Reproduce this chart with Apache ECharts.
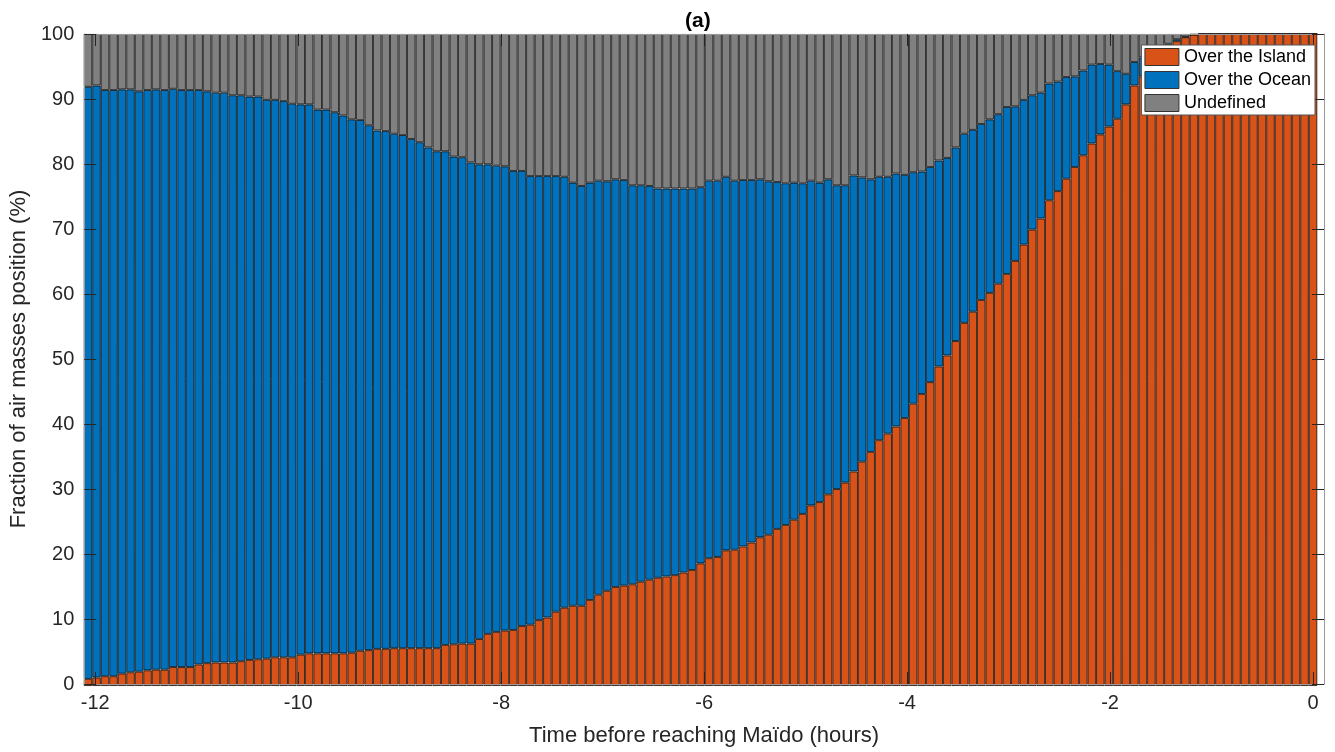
<!DOCTYPE html>
<html>
<head>
<meta charset="utf-8">
<script src="https://cdn.jsdelivr.net/npm/echarts@6/dist/echarts.min.js"></script>
<style>
html,body{margin:0;padding:0;background:#fff;}
#chart{width:1335px;height:752px;}
</style>
</head>
<body>
<div id="chart"></div>
<script>
// ---- data (5-minute steps from -12 h to 0 h, 145 bars) ----
const START_HOUR = -12;
const STEP_MINUTES = 5;
const seriesNames = ['Over the Island', 'Over the Ocean', 'Undefined'];
const xTickValues = [-12, -10, -8, -6, -4, -2, 0];

const island = [
  1.1,1.3,1.5,1.5,1.9,2.1,2.2,2.4,2.5,2.5,
  2.9,2.9,2.9,3.3,3.5,3.6,3.6,3.6,3.8,4.0,
  4.1,4.2,4.4,4.4,4.4,4.8,5.0,5.0,5.0,5.0,
  5.0,5.1,5.4,5.5,5.7,5.7,5.8,5.8,5.8,5.8,
  5.8,5.8,6.3,6.4,6.5,6.5,7.2,8.0,8.3,8.5,
  8.6,9.2,9.4,10.1,10.5,11.4,12.0,12.3,12.3,13.2,
  14.0,14.6,15.2,15.4,15.6,16.0,16.3,16.6,16.8,17.0,
  17.4,17.8,18.8,19.6,19.8,20.8,20.9,21.4,22.0,22.8,
  23.2,24.1,24.7,25.5,26.4,27.7,28.2,29.4,30.2,31.2,
  32.9,34.4,35.9,37.7,38.7,39.8,41.1,43.3,44.8,46.6,
  49.0,50.7,52.9,55.7,57.4,59.2,60.3,61.7,63.2,65.2,
  67.7,70.0,71.7,74.5,75.9,77.8,79.6,81.4,83.2,84.6,
  85.8,87.0,89.2,92.1,93.5,95.0,96.5,97.8,98.9,99.5,
  99.9,100,100,100,100,100,100,100,100,100,
  100,100,100,100,100
];

const ocean = [
  90.8,90.8,89.9,89.9,89.6,89.4,89.0,89.0,89.0,88.9,
  88.7,88.5,88.5,88.1,87.7,87.4,87.4,87.0,86.8,86.4,
  86.3,85.7,85.5,85.3,84.9,84.4,84.2,83.4,83.4,83.0,
  82.5,81.8,81.4,80.5,79.5,79.4,78.9,78.7,78.1,77.6,
  76.8,76.2,75.7,74.8,74.6,73.8,72.8,72.0,71.5,71.2,
  70.4,69.8,68.8,68.1,67.7,66.8,66.1,64.9,64.4,64.0,
  63.5,62.8,62.5,62.2,61.2,60.8,60.4,59.7,59.5,59.3,
  58.9,58.5,57.7,57.9,57.7,57.3,56.6,56.2,55.6,54.9,
  54.2,53.2,52.4,51.7,50.7,49.8,49.0,48.3,46.6,45.6,
  45.4,43.6,41.8,40.4,39.4,38.8,37.3,35.5,34.1,33.0,
  31.6,30.3,29.7,29.0,27.9,27.0,26.6,26.0,25.6,23.7,
  22.2,20.6,19.3,17.9,16.8,15.6,13.9,13.0,12.1,10.8,
  9.5,7.3,4.7,3.6,2.9,2.0,1.3,0.7,0.3,0.1,
  0,0,0,0,0,0,0,0,0,0,
  0,0,0,0,0
];

const undefinedPart = [
  8.1,7.9,8.6,8.6,8.5,8.5,8.8,8.6,8.5,8.6,
  8.4,8.6,8.6,8.6,8.8,9.0,9.0,9.4,9.4,9.6,
  9.6,10.1,10.1,10.3,10.7,10.8,10.8,11.6,11.6,12.0,
  12.5,13.1,13.2,14.0,14.8,14.9,15.3,15.5,16.1,16.6,
  17.4,18.0,18.0,18.8,18.9,19.7,20.0,20.0,20.2,20.3,
  21.0,21.0,21.8,21.8,21.8,21.8,21.9,22.8,23.3,22.8,
  22.5,22.6,22.3,22.4,23.2,23.2,23.3,23.7,23.7,23.7,
  23.7,23.7,23.5,22.5,22.5,21.9,22.5,22.4,22.4,22.3,
  22.6,22.7,22.9,22.8,22.9,22.5,22.8,22.3,23.2,23.2,
  21.7,22.0,22.3,21.9,21.9,21.4,21.6,21.2,21.1,20.4,
  19.4,19.0,17.4,15.3,14.7,13.8,13.1,12.3,11.2,11.1,
  10.1,9.4,9.0,7.6,7.3,6.6,6.5,5.6,4.7,4.6,
  4.7,5.7,6.1,4.3,3.6,3.0,2.2,1.5,0.8,0.4,
  0.1,0,0,0,0,0,0,0,0,0,
  0,0,0,0,0
];

// time of each bar (hours before arrival) used as the category labels
const times = island.map((_, i) => START_HOUR + i * STEP_MINUTES / 60);
const timeCategories = times.map(t => t.toFixed(3));

const FONT = "'Liberation Sans', Arial, Helvetica, sans-serif";
const TXT = '#262626';
const colors = ['#D95319', '#0072BD', '#808080'];
const X_MIN = -12.108, X_MAX = 0.108;

const chart = echarts.init(document.getElementById('chart'), null, {renderer: 'canvas'});

const barStyle = c => ({color: c, borderColor: 'rgba(0,0,0,0.8)', borderWidth: 0.9});

// Grid 0 holds the bars (category bands); grid 1 holds the MATLAB-style box, ticks and labels
const frameAxisLine = {show: true, onZero: false, lineStyle: {color: '#999', width: 1}};
const frameTick = {show: true, inside: true, length: 12, lineStyle: {color: TXT, width: 1}};

const option = {
  animation: false,
  backgroundColor: '#fff',
  textStyle: {fontFamily: FONT},
  title: {
    text: '(a)', left: 680, top: 6,
    textStyle: {fontFamily: FONT, fontSize: 21, fontWeight: 'bold', color: '#000'}
  },
  grid: [
    {left: 83.75, right: 17.7, top: 34, bottom: 66, containLabel: false},
    {left: 77, right: 11, top: 34, bottom: 66, containLabel: false}
  ],
  legend: {
    data: seriesNames,
    orient: 'vertical',
    right: 20, top: 45, z: 20,
    itemWidth: 34, itemHeight: 17, itemGap: 5,
    padding: [3, 4, 3, 3],
    backgroundColor: '#fff',
    borderColor: '#555', borderWidth: 1, borderRadius: 0,
    icon: 'rect',
    itemStyle: {borderColor: '#333', borderWidth: 1},
    textStyle: {fontFamily: FONT, fontSize: 18, color: '#000'}
  },
  xAxis: [{
    gridIndex: 0, type: 'category', data: timeCategories, boundaryGap: true,
    axisLine: {show: false}, axisTick: {show: false}, axisLabel: {show: false}, splitLine: {show: false}
  }, {
    gridIndex: 1, type: 'value', min: X_MIN, max: X_MAX, position: 'bottom', z: 10,
    name: 'Time before reaching Maïdo (hours)', nameLocation: 'middle', nameGap: 41,
    nameTextStyle: {fontFamily: FONT, fontSize: 22, color: TXT},
    axisLine: frameAxisLine,
    axisTick: Object.assign({customValues: xTickValues}, frameTick),
    axisLabel: {show: true, customValues: xTickValues, margin: 9, fontFamily: FONT, fontSize: 20, color: TXT,
      formatter: v => String(Math.round(v))},
    splitLine: {show: false}
  }, {
    gridIndex: 1, type: 'value', min: X_MIN, max: X_MAX, position: 'top', z: 10,
    axisLine: frameAxisLine,
    axisTick: Object.assign({customValues: xTickValues}, frameTick),
    axisLabel: {show: false},
    splitLine: {show: false}
  }],
  yAxis: [{
    gridIndex: 0, type: 'value', min: 0, max: 100,
    axisLine: {show: false}, axisTick: {show: false}, axisLabel: {show: false}, splitLine: {show: false}
  }, {
    gridIndex: 1, type: 'value', min: 0, max: 100, interval: 10, position: 'left', z: 10,
    name: 'Fraction of air masses position (%)', nameLocation: 'middle', nameGap: 45,
    nameTextStyle: {fontFamily: FONT, fontSize: 22, color: TXT},
    axisLine: frameAxisLine,
    axisTick: frameTick,
    axisLabel: {show: true, margin: 10, fontFamily: FONT, fontSize: 20, color: TXT},
    splitLine: {show: false}
  }, {
    gridIndex: 1, type: 'value', min: 0, max: 100, interval: 10, position: 'right', z: 10,
    axisLine: frameAxisLine,
    axisTick: frameTick,
    axisLabel: {show: false},
    splitLine: {show: false}
  }],
  series: [
    {name: seriesNames[0], type: 'bar', stack: 'all', barWidth: '100%', clip: true,
     xAxisIndex: 0, yAxisIndex: 0, itemStyle: barStyle(colors[0]), data: island},
    {name: seriesNames[1], type: 'bar', stack: 'all', barWidth: '100%', clip: true,
     xAxisIndex: 0, yAxisIndex: 0, itemStyle: barStyle(colors[1]), data: ocean},
    {name: seriesNames[2], type: 'bar', stack: 'all', barWidth: '100%', clip: true,
     xAxisIndex: 0, yAxisIndex: 0, itemStyle: barStyle(colors[2]), data: undefinedPart}
  ]
};
chart.setOption(option);
</script>
</body>
</html>
